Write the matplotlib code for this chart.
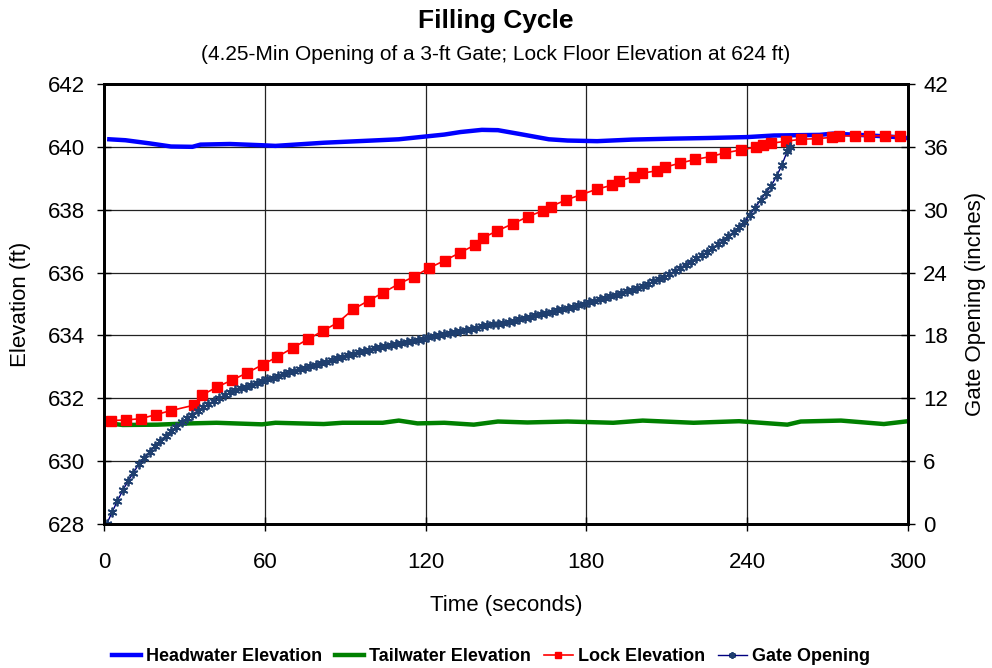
import matplotlib.pyplot as plt
import numpy as np

plt.rcParams['font.family'] = ['Liberation Sans', 'DejaVu Sans']

# Headwater elevation (ft)
hw_time = [2, 8, 17, 25, 33, 36, 47, 59, 64, 82, 100, 110, 119, 127, 133, 141, 147,
           155, 166, 173, 184, 197, 212, 225, 240, 250, 267, 272, 284, 294, 301]
hw_elev = [640.24, 640.21, 640.11, 640.01, 640.0, 640.07, 640.09, 640.05, 640.03, 640.13,
           640.2, 640.24, 640.32, 640.39, 640.47, 640.54, 640.53, 640.41, 640.24, 640.2,
           640.18, 640.23, 640.26, 640.28, 640.31, 640.36, 640.38, 640.42, 640.37, 640.32, 640.27]

# Tailwater elevation (ft)
tw_time = [2, 7, 20, 32, 42, 59, 64, 82, 89, 104, 110, 117, 127, 138, 147, 158, 173,
           190, 201, 220, 237, 255, 260, 275, 291, 301]
tw_elev = [631.2, 631.15, 631.16, 631.2, 631.22, 631.17, 631.22, 631.18, 631.22, 631.22,
           631.29, 631.2, 631.22, 631.16, 631.26, 631.23, 631.26, 631.22, 631.29, 631.22,
           631.27, 631.16, 631.26, 631.29, 631.18, 631.28]

# Lock elevation (ft)
lock_time = [2.5, 8.2, 13.7, 19.4, 25.1, 33.6, 36.6, 42, 47.8, 53.5, 59.2, 64.7, 70.4,
             76.1, 81.8, 87.3, 93, 98.8, 104.2, 110, 115.7, 121.4, 127.1, 132.8, 138.3,
             141.3, 146.8, 152.5, 158.2, 163.9, 166.7, 172.4, 178.1, 183.8, 189.6, 192.3,
             197.8, 200.7, 206.5, 209.2, 214.9, 220.6, 226.4, 231.8, 237.6, 243.3, 246,
             248.8, 254.5, 260.2, 265.9, 271.6, 274.4, 280.1, 285.6, 291.3, 297]
lock_elev = [631.29, 631.31, 631.35, 631.48, 631.61, 631.78, 632.1, 632.35, 632.58,
             632.81, 633.07, 633.32, 633.6, 633.88, 634.15, 634.41, 634.83, 635.11,
             635.36, 635.64, 635.87, 636.15, 636.38, 636.63, 636.87, 637.1, 637.33,
             637.55, 637.78, 637.97, 638.1, 638.31, 638.48, 638.65, 638.78, 638.92,
             639.05, 639.16, 639.24, 639.35, 639.48, 639.6, 639.69, 639.81, 639.9,
             639.99, 640.05, 640.11, 640.18, 640.24, 640.26, 640.3, 640.35, 640.35,
             640.35, 640.35, 640.35]

# Gate opening (inches), every 2 s
gate_time = list(range(1, 256, 2)) + [256]
gate_open = [0.0, 1.1, 2.2, 3.2, 4.1, 4.9, 5.7, 6.3, 6.9, 7.4,
             7.95, 8.4, 8.85, 9.25, 9.7, 10.1, 10.45, 10.8, 11.15, 11.45,
             11.75, 12.05, 12.3, 12.55, 12.75, 12.95, 13.1, 13.3, 13.45, 13.6,
             13.8, 13.95, 14.1, 14.3, 14.5, 14.6, 14.75, 14.9, 15.05, 15.2,
             15.35, 15.5, 15.65, 15.8, 15.95, 16.1, 16.25, 16.4, 16.5, 16.65,
             16.75, 16.85, 16.95, 17.1, 17.2, 17.3, 17.4, 17.5, 17.6, 17.7,
             17.8, 17.9, 18.0, 18.15, 18.25, 18.35, 18.45, 18.55, 18.65, 18.75,
             18.85, 18.95, 19.05, 19.1, 19.2, 19.3, 19.4, 19.55, 19.65, 19.8,
             19.9, 20.0, 20.15, 20.25, 20.4, 20.5, 20.65, 20.75, 20.9, 21.0,
             21.15, 21.3, 21.45, 21.6, 21.75, 21.9, 22.05, 22.2, 22.35, 22.55,
             22.75, 22.95, 23.15, 23.35, 23.55, 23.85, 24.15, 24.45, 24.75, 25.05,
             25.35, 25.65, 25.95, 26.3, 26.7, 27.05, 27.45, 27.9, 28.3, 28.85,
             29.5, 30.2, 30.9, 31.6, 32.3, 33.2, 34.3, 35.6, 36.0]

fig = plt.figure(figsize=(9.92, 6.68), dpi=100)
ax = fig.add_axes([0.1048, 0.2156, 0.8105, 0.6587])
ax2 = ax.twinx()

ax.plot(hw_time, hw_elev, color='#0000FF', lw=3.2, label='Headwater Elevation', zorder=3)
ax.plot(tw_time, tw_elev, color='#008000', lw=3.2, label='Tailwater Elevation', zorder=3)
ax.plot(lock_time, lock_elev, color='#FF0000', lw=1.2, marker='s', ms=7,
        label='Lock Elevation', zorder=4)
ax2.plot(gate_time, gate_open, color='#000080', lw=1.0, marker=(6, 2, 0), ms=7,
         mec='#1F3F6F', mew=1.3, label='Gate Opening')

ax.set_xlim(0, 300)
ax.set_ylim(628, 642)
ax2.set_ylim(0, 42)
ax.set_xticks(np.arange(0, 301, 60))
ax.set_yticks(np.arange(628, 643, 2))
ax2.set_yticks(np.arange(0, 43, 6))
ax.grid(True, color='#222222', lw=0.9)
ax.set_axisbelow(True)

for a in (ax, ax2):
    for s in a.spines.values():
        s.set_linewidth(2)
    a.tick_params(labelsize=16, direction='inout', length=10, width=1)
ax.tick_params(axis='x', pad=15)
ax.tick_params(axis='y', pad=9)
ax2.tick_params(axis='y', pad=6)

ax.set_xlabel('Time (seconds)', fontsize=16, labelpad=16)
ax.set_ylabel('Elevation (ft)', fontsize=16, labelpad=12)
ax2.set_ylabel('Gate Opening (inches)', fontsize=16, labelpad=12)

fig.text(0.5, 0.968, 'Filling Cycle', ha='center', va='center', fontsize=19, fontweight='bold')
fig.text(0.5, 0.918, '(4.25-Min Opening of a 3-ft Gate; Lock Floor Elevation at 624 ft)',
         ha='center', va='center', fontsize=15)

h1, l1 = ax.get_legend_handles_labels()
h2, l2 = ax2.get_legend_handles_labels()
fig.legend(h1 + h2, l1 + l2, loc='center', bbox_to_anchor=(0.495, 0.017), ncol=4,
           frameon=False, prop={'weight': 'bold', 'size': 13}, handlelength=1.6,
           handletextpad=0.3, columnspacing=0.7, markerscale=0.7)

fig.savefig('out.png', dpi=100)
